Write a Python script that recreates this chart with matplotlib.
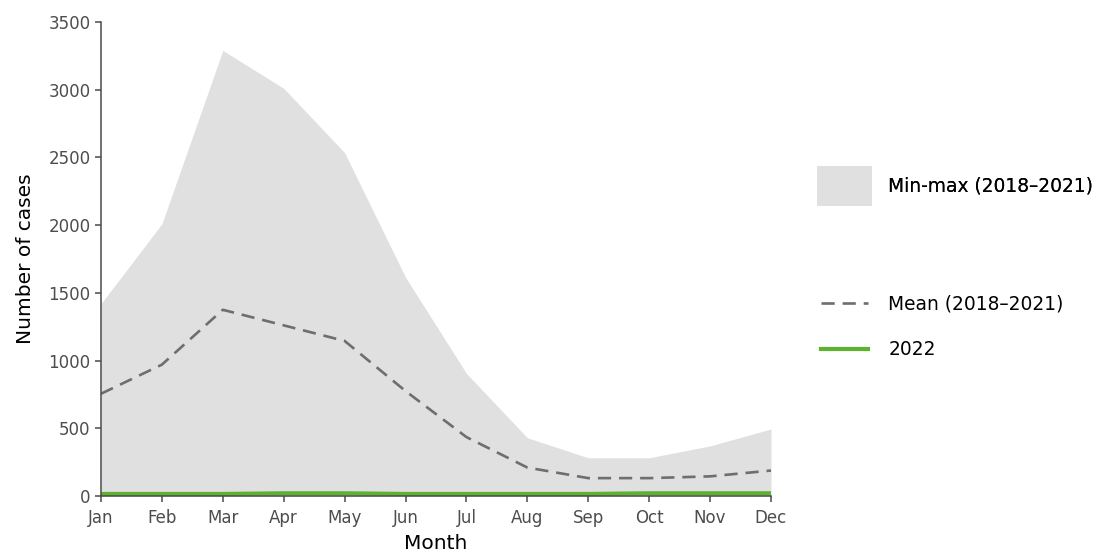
import matplotlib
matplotlib.use("Agg")
from matplotlib import pyplot as plt
from matplotlib.patches import Patch
from matplotlib.lines import Line2D

plt.rcParams["font.family"] = ["DejaVu Sans"]

months = ["Jan", "Feb", "Mar", "Apr", "May", "Jun", "Jul", "Aug", "Sep", "Oct", "Nov", "Dec"]
band_min = [0, 0, 0, 0, 0, 0, 0, 0, 0, 0, 0, 0]
band_max = [1420, 2010, 3290, 3010, 2535, 1615, 905, 430, 282, 282, 370, 495]
mean_1821 = [755, 970, 1375, 1260, 1145, 775, 435, 210, 132, 132, 145, 188]
cases_2022 = [15, 15, 15, 20, 20, 15, 15, 15, 15, 20, 20, 20]

x = list(range(len(months)))

fig = plt.figure(figsize=(10.95, 5.56), dpi=100)
ax = fig.add_axes([101 / 1095, 1 - 496 / 556, 670 / 1095, 474 / 556])

band = ax.fill_between(x, band_min, band_max, color="#e0e0e0", linewidth=0)
mean_line, = ax.plot(x, mean_1821, color="#6e6e6e", linewidth=1.9, dashes=(5, 3))
line22, = ax.plot(x, cases_2022, color="#5db22e", linewidth=3.0, solid_capstyle="butt")

ax.set_xlim(0, 11)
ax.set_ylim(0, 3500)
ax.set_xticks(x)
ax.set_xticklabels(months)
ax.set_yticks(range(0, 3501, 500))

for side in ["top", "right"]:
    ax.spines[side].set_visible(False)
for side in ["left", "bottom"]:
    ax.spines[side].set_color("#4a4a4a")
    ax.spines[side].set_linewidth(1.1)
ax.tick_params(axis="both", colors="#4a4a4a", labelcolor="#4d4d4d", labelsize=12,
               length=4.5, width=1.1, direction="out")
ax.tick_params(axis="y", pad=3)
ax.tick_params(axis="x", pad=5)

ax.set_xlabel("Month", fontsize=14.5, color="black", labelpad=5)
ax.set_ylabel("Number of cases", fontsize=14.5, color="black", labelpad=10)

fs = 13.4
leg1 = fig.legend(handles=[Patch(facecolor="#e0e0e0", edgecolor="none")],
                  labels=["Min-max (2018\u20132021)"],
                  loc="upper left", bbox_to_anchor=(817 / 1095, 1 - 166 / 556),
                  frameon=False, fontsize=fs, borderpad=0, borderaxespad=0,
                  handlelength=2.96, handleheight=2.9, handletextpad=0.86)
leg2 = fig.legend(handles=[Line2D([], [], color="#6e6e6e", linewidth=1.9, dashes=(5, 3)),
                           Line2D([], [], color="#5db22e", linewidth=3.0)],
                  labels=["Mean (2018\u20132021)", "2022"],
                  loc="upper left", bbox_to_anchor=(821 / 1095, 1 - 295 / 556),
                  frameon=False, fontsize=fs, borderpad=0, borderaxespad=0,
                  handlelength=2.53, handletextpad=1.08, labelspacing=1.4)
fig.add_artist(leg1)

fig.savefig("out.png", dpi=100)
